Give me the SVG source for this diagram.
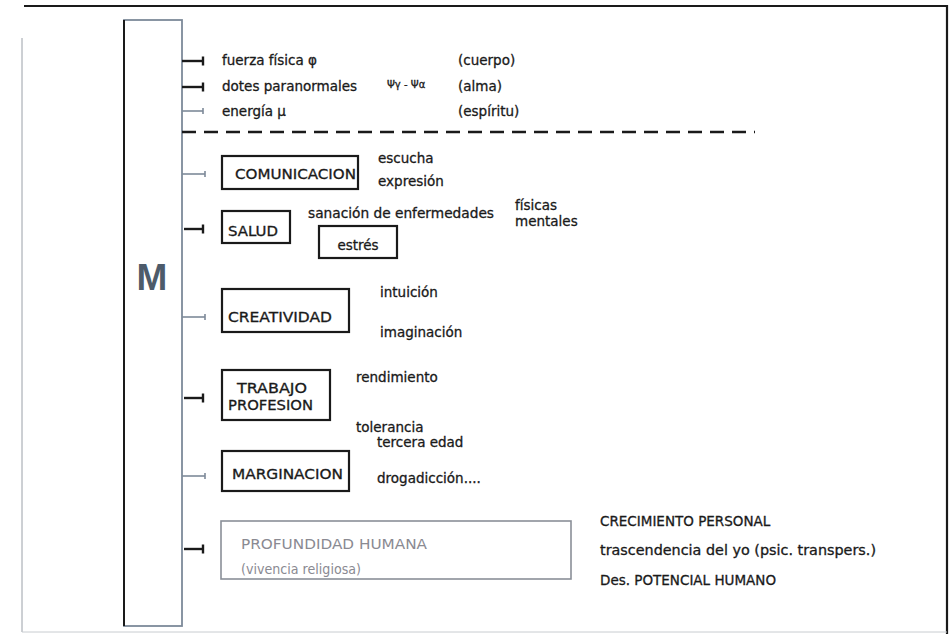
<svg xmlns="http://www.w3.org/2000/svg" width="951" height="634" viewBox="0 0 951 634">
<style>
text{font-family:"DejaVu Sans","Liberation Sans",sans-serif;font-size:13.5px;fill:#1a1a1a;stroke:#1a1a1a;stroke-width:0.3}
.gr{fill:#8a8a92;stroke:none}
.box{fill:none;stroke:#1a1a1a;stroke-width:2.2}
.dk{stroke:#1a1a1a;stroke-width:2.4;fill:none}
.lt{stroke:#7d8a99;stroke-width:1.6;fill:none}
</style>
<defs>
<marker id="teeD" markerWidth="4" markerHeight="10" refX="2" refY="5" markerUnits="userSpaceOnUse" orient="auto"><line x1="2" y1="0.5" x2="2" y2="9.5" stroke="#1a1a1a" stroke-width="2.4"/></marker>
<marker id="teeL" markerWidth="4" markerHeight="8" refX="2" refY="4" markerUnits="userSpaceOnUse" orient="auto"><line x1="2" y1="1" x2="2" y2="7" stroke="#7d8a99" stroke-width="1.6"/></marker>
</defs>
<rect width="951" height="634" fill="#ffffff"/>
<g id="frame">
<line x1="24" y1="6" x2="947" y2="6" stroke="#1a1a1a" stroke-width="2"/>
<line x1="947" y1="5" x2="947" y2="634" stroke="#1a1a1a" stroke-width="2.2"/>
<line x1="22" y1="38" x2="22" y2="632" stroke="#9aa0a8" stroke-width="1"/>
<line x1="22" y1="632" x2="947" y2="632" stroke="#c8ccd0" stroke-width="1"/>
</g>
<g id="M">
<rect x="124" y="20" width="58" height="606" fill="#ffffff" stroke="#7d8a99" stroke-width="1.8"/>
<line x1="124" y1="20" x2="124" y2="626" stroke="#1a1a1a" stroke-width="2"/>
<text x="152" y="290" text-anchor="middle" style="font-size:37px;font-weight:bold;fill:#4d5b6b;stroke:none;font-family:'Liberation Sans',sans-serif">M</text>
</g>
<g id="connectors">
<line class="dk" x1="182" y1="61" x2="203" y2="61" marker-end="url(#teeD)"/>
<line class="dk" x1="182" y1="87" x2="203" y2="87" marker-end="url(#teeD)"/>
<line class="lt" x1="182" y1="111" x2="203" y2="111" marker-end="url(#teeL)"/>
<line x1="182" y1="132" x2="755" y2="132" stroke="#1a1a1a" stroke-width="2.6" stroke-dasharray="14,8"/>
<line class="lt" x1="182" y1="174" x2="205" y2="174" marker-end="url(#teeL)"/>
<line class="dk" x1="184" y1="229" x2="203" y2="229" marker-end="url(#teeD)"/>
<line class="lt" x1="182" y1="317" x2="205" y2="317" marker-end="url(#teeL)"/>
<line class="dk" x1="184" y1="398" x2="203" y2="398" marker-end="url(#teeD)"/>
<line class="lt" x1="182" y1="476" x2="205" y2="476" marker-end="url(#teeL)"/>
<line class="dk" x1="184" y1="549" x2="203" y2="549" marker-end="url(#teeD)"/>
</g>
<g id="top-items">
<text x="222" y="65">fuerza física φ</text>
<text x="458" y="65">(cuerpo)</text>
<text x="222" y="91">dotes paranormales</text>
<text x="387" y="88" style="font-size:10px">Ψγ - Ψα</text>
<text x="458" y="91">(alma)</text>
<text x="222" y="116">energía μ</text>
<text x="458" y="116">(espíritu)</text>
</g>
<g id="comunicacion">
<rect class="box" x="222" y="156" width="136" height="33"/>
<text x="235" y="179" textLength="121" lengthAdjust="spacingAndGlyphs">COMUNICACION</text>
<text x="378" y="163">escucha</text>
<text x="378" y="186">expresión</text>
</g>
<g id="salud">
<rect class="box" x="222" y="211" width="68" height="32"/>
<text x="228" y="236" textLength="50" lengthAdjust="spacingAndGlyphs">SALUD</text>
<text x="308" y="218" textLength="186" lengthAdjust="spacingAndGlyphs">sanación de enfermedades</text>
<text x="515" y="210">físicas</text>
<text x="515" y="226">mentales</text>
</g>
<g id="estres">
<rect class="box" x="319" y="226" width="78" height="32"/>
<text x="358" y="250" text-anchor="middle">estrés</text>
</g>
<g id="creatividad">
<rect class="box" x="222" y="289" width="127" height="43"/>
<text x="228" y="322" textLength="104" lengthAdjust="spacingAndGlyphs">CREATIVIDAD</text>
<text x="380" y="297">intuición</text>
<text x="380" y="337">imaginación</text>
</g>
<g id="trabajo">
<rect class="box" x="222" y="370" width="108" height="50"/>
<text x="237" y="393" textLength="70" lengthAdjust="spacingAndGlyphs">TRABAJO</text>
<text x="228" y="410" textLength="85" lengthAdjust="spacingAndGlyphs">PROFESION</text>
<text x="356" y="382">rendimiento</text>
<text x="356" y="432">tolerancia</text>
<text x="377" y="447">tercera edad</text>
</g>
<g id="marginacion">
<rect class="box" x="222" y="451" width="127" height="40"/>
<text x="232" y="479" textLength="111" lengthAdjust="spacingAndGlyphs">MARGINACION</text>
<text x="377" y="483">drogadicción....</text>
</g>
<g id="profundidad">
<rect x="221" y="521" width="350" height="58" fill="none" stroke="#8a8f98" stroke-width="1.6"/>
<text class="gr" x="241" y="549" textLength="186" lengthAdjust="spacingAndGlyphs">PROFUNDIDAD HUMANA</text>
<text class="gr" x="241" y="574" textLength="120" lengthAdjust="spacingAndGlyphs">(vivencia religiosa)</text>
<text x="600" y="526">CRECIMIENTO PERSONAL</text>
<text x="600" y="555" textLength="276" lengthAdjust="spacingAndGlyphs">trascendencia del yo (psic. transpers.)</text>
<text x="600" y="585">Des. POTENCIAL HUMANO</text>
</g>
</svg>
